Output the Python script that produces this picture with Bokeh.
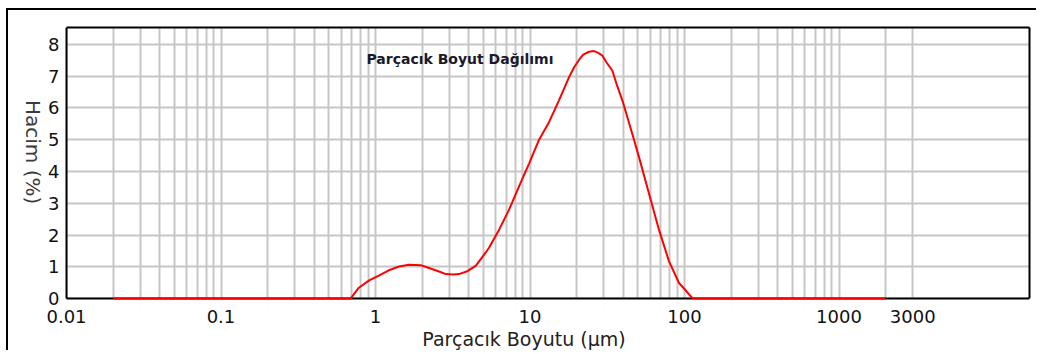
from bokeh.plotting import figure
from bokeh.models import (FixedTicker, CustomJSTickFormatter, Label, Range1d,
                          LinearAxis, BoxAnnotation)
from bokeh.embed import file_html
from bokeh.resources import INLINE
import math

# ---- data ----
size_um = [0.02, 0.69, 0.78, 0.91, 1.05, 1.22, 1.42, 1.65, 1.96, 2.22, 2.58, 2.85,
           3.20, 3.47, 3.93, 4.45, 4.68, 5.17, 5.43, 5.85, 6.30, 7.31, 8.48, 9.86,
           11.4, 13.3, 15.4, 17.9, 19.3, 20.8, 22.1, 24.1, 25.9, 27.5, 29.4, 31.2,
           34.1, 36.3, 39.6, 45.9, 50.7, 58.9, 68.4, 79.4, 92.1, 100.0, 107.0,
           113.0, 2000.0]
volume_pct = [0.0, 0.0, 0.34, 0.57, 0.72, 0.89, 1.01, 1.06, 1.05, 0.96, 0.85, 0.77,
              0.76, 0.77, 0.86, 1.03, 1.17, 1.45, 1.60, 1.88, 2.16, 2.79, 3.52, 4.25,
              4.98, 5.56, 6.24, 6.97, 7.28, 7.52, 7.68, 7.77, 7.79, 7.74, 7.65, 7.44,
              7.18, 6.76, 6.24, 5.19, 4.46, 3.31, 2.16, 1.17, 0.49, 0.30, 0.13,
              0.0, 0.0]

x_tick_values = [0.01, 0.1, 1, 10, 100, 1000, 3000]
x_tick_labels = ["0.01", "0.1", "1", "10", "100", "1000", "3000"]
y_tick_values = [0, 1, 2, 3, 4, 5, 6, 7, 8]
grid_decades = [0.01, 0.1, 1, 10, 100]
grid_multipliers = [2, 3, 4, 5, 6, 7, 8, 9]
grid_extra = [2000]

x_min, x_max = 0.01, 17100      # plotted size range (µm)
y_min, y_max = 0, 8.533         # plotted volume range (%)

title_text = "Parçacık Boyut Dağılımı"
x_label_text = "Parçacık Boyutu (µm)"
y_label_text = "Hacim (%)"

minor_ticks = [d * m for d in grid_decades for m in grid_multipliers] + grid_extra

# the drawing frame reaches a little past the plotting box on the left and
# at the bottom so that the rotated y label and the "0" tick label stay visible
px_per_decade = 154.5
px_per_unit = 31.875
x_start = 10 ** (math.log10(x_min) - 48 / px_per_decade)
y_start = y_min - 8 / px_per_unit

p = figure(width=1030, height=342, x_axis_type="log",
           x_range=Range1d(x_start, x_max), y_range=Range1d(y_start, y_max),
           output_backend="svg", toolbar_location=None,
           min_border_left=10, min_border_top=17, min_border_right=9, min_border_bottom=45,
           styles={"margin-left": "6px", "margin-top": "8px",
                   "border-left": "2px solid black", "border-top": "2px solid black"})

p.background_fill_color = "white"
p.border_fill_color = "white"
p.outline_line_color = None

# x axis (bottom panel): labels only
p.xaxis.ticker = FixedTicker(ticks=x_tick_values, minor_ticks=minor_ticks)
p.xaxis.formatter = CustomJSTickFormatter(
    args=dict(vals=x_tick_values, labs=x_tick_labels),
    code="""
    for (let i = 0; i < vals.length; i++) {
        if (Math.abs(vals[i] - tick) < 1e-6 * Math.max(1, Math.abs(vals[i]))) return labs[i];
    }
    return '';
    """)
p.xaxis.axis_line_color = None
p.xaxis.major_tick_line_color = None
p.xaxis.minor_tick_line_color = None
p.xaxis.major_label_text_font = "DejaVu Sans"
p.xaxis.major_label_text_font_size = "18px"
p.xaxis.major_label_text_color = "#111111"
p.xaxis.major_label_standoff = -3
p.xaxis.axis_label = x_label_text
p.xaxis.axis_label_text_font = "DejaVu Sans"
p.xaxis.axis_label_text_font_size = "19px"
p.xaxis.axis_label_text_font_style = "normal"
p.xaxis.axis_label_text_color = "#222222"
p.xaxis.axis_label_standoff = 2

# bottom border line of the plotting box, at y = 0
base_axis = LinearAxis(ticker=FixedTicker(ticks=[]), fixed_location=y_min,
                       bounds=(x_min, x_max), axis_line_color="black", axis_line_width=2,
                       major_tick_line_color=None, minor_tick_line_color=None)
p.add_layout(base_axis, "below")

# y axis, drawn at the left edge of the plotting box (x = x_min)
p.yaxis.ticker = FixedTicker(ticks=y_tick_values)
p.yaxis.fixed_location = x_min
p.yaxis.bounds = (y_min, y_max)
p.yaxis.major_tick_line_color = None
p.yaxis.minor_tick_line_color = None
p.yaxis.major_label_text_font = "DejaVu Sans"
p.yaxis.major_label_text_font_size = "18px"
p.yaxis.major_label_text_color = "#111111"
p.yaxis.major_label_standoff = 1
p.yaxis.axis_line_color = "black"
p.yaxis.axis_line_width = 2

# top and right border lines of the plotting box
top_axis = LinearAxis(ticker=FixedTicker(ticks=[]), bounds=(x_min, x_max),
                      axis_line_color="black", axis_line_width=2,
                      major_tick_line_color=None, minor_tick_line_color=None)
right_axis = LinearAxis(ticker=FixedTicker(ticks=[]), bounds=(y_min, y_max),
                        axis_line_color="black", axis_line_width=2,
                        major_tick_line_color=None, minor_tick_line_color=None)
p.add_layout(top_axis, "above")
p.add_layout(right_axis, "right")

# grids
p.xgrid.grid_line_color = "#c6c6c6"
p.xgrid.grid_line_width = 2
p.xgrid.minor_grid_line_color = "#c6c6c6"
p.xgrid.minor_grid_line_width = 2
p.ygrid.grid_line_color = "#c6c6c6"
p.ygrid.grid_line_width = 2

# blank margins outside the plotting box (hide grid there)
left_margin = BoxAnnotation(right=x_min, fill_color="white", fill_alpha=1.0, line_color=None)
left_margin.level = "glyph"
p.add_layout(left_margin)
bottom_margin = BoxAnnotation(top=y_min, fill_color="white", fill_alpha=1.0, line_color=None)
bottom_margin.level = "glyph"
p.add_layout(bottom_margin)

# curve
r = p.line(size_um, volume_pct, line_color="#ff0000", line_width=2)
r.level = "overlay"

# chart title inside plot
p.add_layout(Label(x=3.52, y=7.55, text=title_text, text_align="center",
                   text_baseline="middle", text_font="DejaVu Sans",
                   text_font_size="14px", text_font_style="bold",
                   text_color="#1a1a2a"))

# y label, reading top to bottom
p.add_layout(Label(x=10 ** (math.log10(x_min) - 34 / px_per_decade), y=4.61,
                   text=y_label_text, angle=-math.pi / 2, text_align="center",
                   text_baseline="middle", text_font="DejaVu Sans",
                   text_font_size="20px", text_color="#3c3c3c"))

open("out.html", "w").write(file_html(p, INLINE))
